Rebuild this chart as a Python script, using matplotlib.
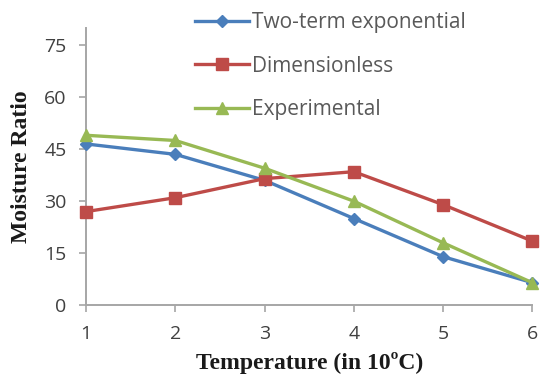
import matplotlib
matplotlib.use("Agg")
import matplotlib.pyplot as plt

# data
temps = [1, 2, 3, 4, 5, 6]
two_term = [46.5, 43.5, 36, 25, 14, 6.5]
dimensionless = [27, 31, 36.5, 38.5, 29, 18.5]
experimental = [49, 47.5, 39.5, 30, 18, 6.5]
y_ticks = [0, 15, 30, 45, 60, 75]

fig = plt.figure(figsize=(5.42, 3.81), dpi=100)
ax = fig.add_axes([0.159, 0.199, 0.823, 0.728])

grey = "#A6A6A6"
txt = "#404040"

ax.plot(temps, two_term, color="#4A7EBB", lw=2.4, marker="D", ms=6.5,
        label="Two-term exponential", clip_on=False, zorder=3)
ax.plot(temps, dimensionless, color="#BE4B48", lw=2.4, marker="s", ms=8.5,
        label="Dimensionless", clip_on=False, zorder=3)
ax.plot(temps, experimental, color="#98B954", lw=2.4, marker="^", ms=9,
        label="Experimental", clip_on=False, zorder=4)

ax.set_xlim(1, 6)
ax.set_ylim(0, 80)
ax.set_yticks(y_ticks)
ax.set_xticks(temps)

for s in ["top", "right"]:
    ax.spines[s].set_visible(False)
for s in ["left", "bottom"]:
    ax.spines[s].set_color(grey)
    ax.spines[s].set_linewidth(1.4)
ax.tick_params(axis="both", colors=grey, length=5, width=1.2,
               labelsize=14, labelcolor=txt, pad=9)
for lab in ax.get_xticklabels() + ax.get_yticklabels():
    lab.set_family("Open Sans")

ax.set_xlabel("Temperature (in 10\u00baC)", fontfamily="Liberation Serif",
              fontweight="bold", fontsize=17, color="#1a1a1a", labelpad=7)
ax.set_ylabel("Moisture Ratio", fontfamily="Liberation Serif",
              fontweight="bold", fontsize=17, color="#1a1a1a", labelpad=9)

leg = fig.legend(loc="upper left", bbox_to_anchor=(0.345, 0.99), frameon=False,
                 prop={"family": "Open Sans", "size": 15}, handlelength=2.6,
                 handletextpad=0.1, labelspacing=1.08, borderaxespad=0)
for t in leg.get_texts():
    t.set_color("#595959")

fig.savefig("out.png", dpi=100)
